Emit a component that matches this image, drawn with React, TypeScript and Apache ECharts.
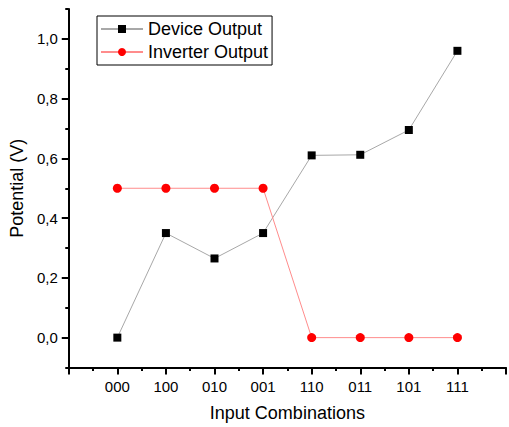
import React, { useEffect, useRef } from "react";
import * as echarts from "echarts";

const categories = ["000", "100", "010", "001", "110", "011", "101", "111"];
const deviceOutput = [0.0, 0.35, 0.265, 0.35, 0.61, 0.612, 0.695, 0.96];
const inverterOutput = [0.5, 0.5, 0.5, 0.5, 0.0, 0.0, 0.0, 0.0];
const yMajorTicks = [0, 0.2, 0.4, 0.6, 0.8, 1.0];
const seriesNames = ["Device Output", "Inverter Output"];

const FONT = "'Liberation Sans', Arial, sans-serif";

export default function App() {
  const ref = useRef<HTMLDivElement>(null);
  useEffect(() => {
    if (!ref.current) return;
    const chart = echarts.init(ref.current, null, { renderer: "svg" });
    const toPairs = (arr: number[]) => arr.map((v, i) => [i, v]);
    const fmtY = (v: number) => v.toFixed(1).replace(".", ",");
    chart.setOption({
      animation: false,
      backgroundColor: "#ffffff",
      textStyle: { fontFamily: FONT },
      grid: { left: 65, right: -2, top: 9, bottom: 59.5, containLabel: false },
      legend: {
        orient: "vertical",
        left: 97,
        top: 16,
        padding: [4, 4, 4, 3],
        itemGap: 5,
        itemWidth: 42,
        itemHeight: 10,
        borderColor: "#000",
        borderWidth: 1,
        borderRadius: 0,
        data: seriesNames,
        textStyle: { fontSize: 18, color: "#000", fontFamily: FONT },
      },
      xAxis: {
        type: "value",
        min: -1,
        max: 8,
        interval: 1,
        name: "Input Combinations",
        nameLocation: "middle",
        nameGap: 36,
        nameTextStyle: { fontSize: 18, color: "#000", fontFamily: FONT },
        axisLine: { show: true, onZero: false, lineStyle: { color: "#000", width: 2 } },
        axisTick: { show: true, inside: false, length: 7, lineStyle: { color: "#000", width: 2 } },
        minorTick: { show: true, splitNumber: 2, length: 3.5, lineStyle: { color: "#000", width: 2 } },
        splitLine: { show: false },
        minorSplitLine: { show: false },
        axisLabel: {
          margin: 11,
          fontSize: 15,
          color: "#000",
          fontFamily: FONT,
          formatter: (v: number) => {
            const i = Math.round(v);
            return i >= 0 && i < categories.length ? categories[i] : "";
          },
        },
      },
      yAxis: [
        {
          type: "value",
          min: -0.1,
          max: 1.1,
          interval: 0.1,
          position: "left",
          name: "Potential (V)",
          nameLocation: "middle",
          nameGap: 38,
          nameRotate: 90,
          nameTextStyle: { fontSize: 18, color: "#000", fontFamily: FONT },
          axisLine: { show: true, onZero: false, lineStyle: { color: "#000", width: 2 } },
          axisTick: { show: true, length: 3.5, lineStyle: { color: "#000", width: 2 } },
          splitLine: { show: false },
          axisLabel: {
            margin: 11,
            fontSize: 15,
            color: "#000",
            fontFamily: FONT,
            customValues: yMajorTicks,
            formatter: (v: number) => fmtY(v),
          },
        },
        {
          type: "value",
          min: -0.1,
          max: 1.1,
          interval: 0.1,
          position: "left",
          offset: 0,
          axisLine: { show: false, onZero: false },
          axisTick: {
            show: true,
            length: 7,
            customValues: yMajorTicks,
            lineStyle: { color: "#000", width: 2 },
          },
          axisLabel: { show: false },
          splitLine: { show: false },
        },
      ],
      series: [
        {
          name: seriesNames[0],
          type: "line",
          data: toPairs(deviceOutput),
          symbol: "rect",
          symbolSize: 8,
          itemStyle: { color: "#000" },
          lineStyle: { color: "#a8a8a8", width: 1 },
          z: 3,
        },
        {
          name: seriesNames[1],
          type: "line",
          data: toPairs(inverterOutput),
          symbol: "circle",
          symbolSize: 9,
          itemStyle: { color: "#ff0000" },
          lineStyle: { color: "#ff8c8c", width: 1 },
          z: 4,
        },
      ],
    });
    return () => chart.dispose();
  }, []);
  return (
    <div
      ref={ref}
      style={{ position: "absolute", left: 0, top: 0, width: 509, height: 427 }}
    />
  );
}
